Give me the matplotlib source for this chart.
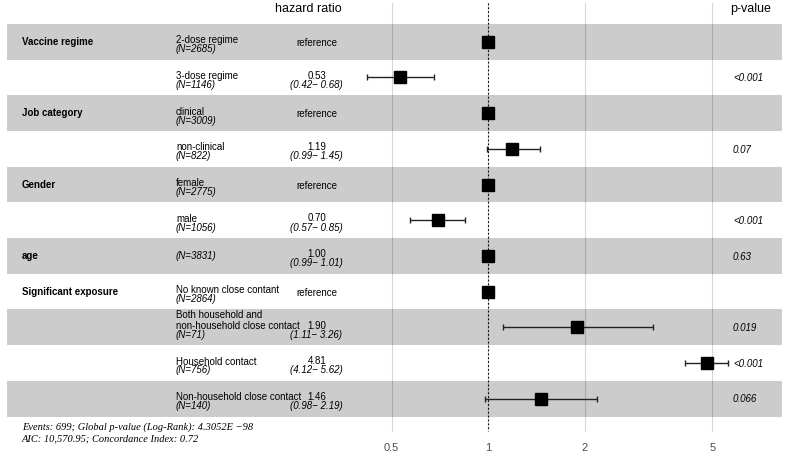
import matplotlib
matplotlib.use("Agg")
import matplotlib.pyplot as plt
import matplotlib.transforms as mtrans

plt.rcParams['font.family'] = ['Liberation Sans', 'DejaVu Sans']

# data
variables = ["Vaccine regime", "", "Job category", "", "Gender", "", "age",
             "Significant exposure", "", "", ""]
levels = ["2-dose regime", "3-dose regime", "clinical", "non-clinical", "female", "male", "",
          "No known close contant", "Both household and\nnon-household close contact",
          "Household contact", "Non-household close contact"]
n_obs = [2685, 1146, 3009, 822, 2775, 1056, 3831, 2864, 71, 756, 140]
hr = [1.0, 0.53, 1.0, 1.19, 1.0, 0.70, 1.00, 1.0, 1.90, 4.81, 1.46]
ci_low = [None, 0.42, None, 0.99, None, 0.57, 0.99, None, 1.11, 4.12, 0.98]
ci_high = [None, 0.68, None, 1.45, None, 0.85, 1.01, None, 3.26, 5.62, 2.19]
pvals = ["", "<0.001", "", "0.07", "", "<0.001", "0.63", "", "0.019", "<0.001", "0.066"]
ticks = [0.5, 1, 2, 5]

W, H = 787, 458
fig = plt.figure(figsize=(W / 100, H / 100), dpi=100)
ax = fig.add_axes([0, 0, 1, 1])
ax.set_xscale("log")
ax.set_xlim(0.0300, 8.56)
row0, step = 41.7, 35.7
ax.set_ylim((H - row0) / step, -row0 / step)
ax.axis("off")

def ypx(p):
    return (p - row0) / step

tr = mtrans.blended_transform_factory(ax.transAxes, ax.transData)

# grid lines
for t in ticks:
    ax.plot([t, t], [ypx(3), ypx(431)], color="#d6d6d6", lw=0.8, zorder=1)
    ax.text(t, ypx(448), str(t), ha="center", va="center", fontsize=8, color="#4d4d4d")
ax.plot([1, 1], [ypx(3), ypx(431)], color="black", lw=0.8, ls=(0, (1.5, 2)), zorder=4)

for i in range(len(levels)):
    if i % 2 == 0:
        ax.fill_between([7 / W, 782 / W], i - 0.5, i + 0.5, color="black", alpha=0.2,
                        lw=0, transform=tr, zorder=2)
    if variables[i]:
        ax.text(22 / W, i, variables[i], transform=tr, ha="left", va="center",
                fontsize=7, fontweight="bold")
    if levels[i]:
        ax.text(176 / W, i + 0.1, levels[i], transform=tr, ha="left", va="bottom",
                fontsize=7, linespacing=1.15)
        ax.text(176 / W, i + 0.07, "(N=%d)" % n_obs[i], transform=tr, ha="left", va="top",
                fontsize=7, style="italic")
    else:
        ax.text(176 / W, i, "(N=%d)" % n_obs[i], transform=tr, ha="left", va="center",
                fontsize=7, style="italic")
    if ci_low[i] is None:
        ax.text(317 / W, i + 0.03, "reference", transform=tr, ha="center", va="center", fontsize=7)
    else:
        ax.text(317 / W, i + 0.09, "%.2f" % hr[i], transform=tr, ha="center", va="bottom",
                fontsize=7)
        ax.text(316 / W, i + 0.07, "(%.2f\u2212 %.2f)" % (ci_low[i], ci_high[i]), transform=tr,
                ha="center", va="top", fontsize=7, style="italic")
        ax.errorbar(hr[i], i, xerr=[[hr[i] - ci_low[i]], [ci_high[i] - hr[i]]], fmt="none",
                    ecolor="#222222", elinewidth=1, capsize=2.5, capthick=1, zorder=5)
    ax.plot(hr[i], i, marker="s", ms=8.5, color="black", zorder=6)
    if pvals[i]:
        ax.text(733 / W, i + 0.02, pvals[i], transform=tr, ha="left", va="center", fontsize=7,
                style="italic")

ax.text(308 / W, ypx(9), "hazard ratio", transform=tr, ha="center", va="center", fontsize=9)
ax.text(751 / W, ypx(9), "p-value", transform=tr, ha="center", va="center", fontsize=9)

ax.text(22 / W, ypx(427), "Events: 699; Global p-value (Log-Rank): 4.3052E \u221298", transform=tr,
        ha="left", va="center", fontsize=7.5, style="italic", family="Liberation Serif")
ax.text(22 / W, ypx(439), "AIC: 10,570.95; Concordance Index: 0.72", transform=tr,
        ha="left", va="center", fontsize=7.5, style="italic", family="Liberation Serif")

fig.savefig("out.png", dpi=100)
